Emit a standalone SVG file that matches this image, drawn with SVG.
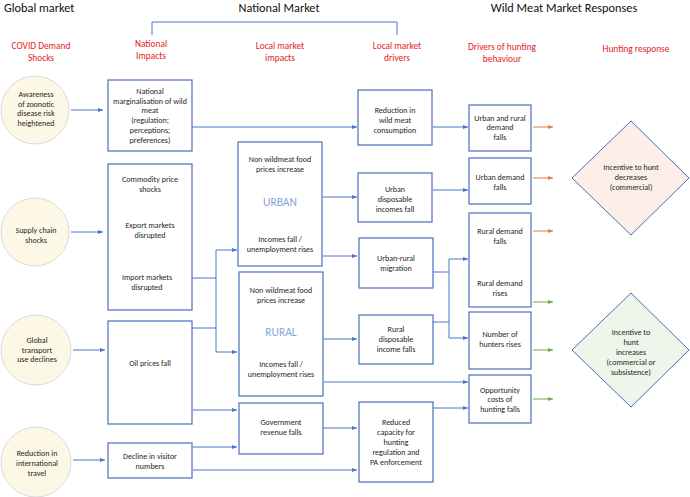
<svg xmlns="http://www.w3.org/2000/svg" width="690" height="497" viewBox="0 0 690 497">
<defs>
<style>
.t{font-family:Carlito,Lato,"Liberation Sans",sans-serif;font-size:8px;fill:#1e1e1e;text-anchor:middle}
.h{font-family:Carlito,Lato,"Liberation Sans",sans-serif;font-size:12.3px;fill:#111}
.r{font-family:Carlito,Lato,"Liberation Sans",sans-serif;font-size:9.4px;fill:#e42222;text-anchor:middle}
.big{font-family:Carlito,Lato,"Liberation Sans",sans-serif;font-size:11.5px;fill:#85a3dc;text-anchor:middle}
.box{fill:#fff;stroke:#4a6fbf;stroke-width:1.2}
.circ{fill:#fdf7e6;stroke:#cfd0dc;stroke-width:0.8}
.c{fill:none;stroke:#4a74c8;stroke-width:1}
.co{fill:none;stroke:#e07a3c;stroke-width:1}
.cg{fill:none;stroke:#6aa84f;stroke-width:1}
</style>
<marker id="ab" markerWidth="6" markerHeight="6" refX="5" refY="3" orient="auto" markerUnits="userSpaceOnUse"><path d="M0,1 L5,3 L0,5 Z" fill="#4a74c8"/></marker>
<marker id="ao" markerWidth="6" markerHeight="6" refX="5" refY="3" orient="auto" markerUnits="userSpaceOnUse"><path d="M0,1 L5,3 L0,5 Z" fill="#e07a3c"/></marker>
<marker id="ag" markerWidth="6" markerHeight="6" refX="5" refY="3" orient="auto" markerUnits="userSpaceOnUse"><path d="M0,1 L5,3 L0,5 Z" fill="#6aa84f"/></marker>
</defs>
<rect width="690" height="497" fill="#fff"/>

<g id="headers">
<text class="h" x="4" y="12">Global market</text>
<text class="h" x="279" y="12" text-anchor="middle">National Market</text>
<text class="h" x="564" y="12" text-anchor="middle">Wild Meat Market Responses</text>
<path d="M152,35 V22 H397 V35" fill="none" stroke="#4a74c8" stroke-width="1"/>
<text class="r" x="41" y="49">COVID Demand</text>
<text class="r" x="41" y="61">Shocks</text>
<text class="r" x="151" y="47">National</text>
<text class="r" x="151" y="59">Impacts</text>
<text class="r" x="280" y="49">Local market</text>
<text class="r" x="280" y="61">impacts</text>
<text class="r" x="397" y="49">Local market</text>
<text class="r" x="397" y="61">drivers</text>
<text class="r" x="502" y="50">Drivers of hunting</text>
<text class="r" x="502" y="62">behaviour</text>
<text class="r" x="636" y="52">Hunting response</text>
</g>

<g id="connectors">
<path class="c" d="M71,110 H103" marker-end="url(#ab)"/>
<path class="c" d="M71,232 H103" marker-end="url(#ab)"/>
<path class="c" d="M73,350 H105" marker-end="url(#ab)"/>
<path class="c" d="M73,460 H105" marker-end="url(#ab)"/>
<path class="c" d="M192,127 H357" marker-end="url(#ab)"/>
<path class="c" d="M433,127 H468" marker-end="url(#ab)"/>
<path class="c" d="M192,278 H216 M192,328 H216"/>
<path class="c" d="M216,250 V352"/>
<path class="c" d="M216,250 H237" marker-end="url(#ab)"/>
<path class="c" d="M216,352 H237" marker-end="url(#ab)"/>
<path class="c" d="M193,410 H237" marker-end="url(#ab)"/>
<path class="c" d="M193,447 H237" marker-end="url(#ab)"/>
<path class="c" d="M193,470 H357" marker-end="url(#ab)"/>
<path class="c" d="M323,197 H357" marker-end="url(#ab)"/>
<path class="c" d="M323,256 H357" marker-end="url(#ab)"/>
<path class="c" d="M323,339 H357" marker-end="url(#ab)"/>
<path class="c" d="M323,428 H357" marker-end="url(#ab)"/>
<path class="c" d="M324,382 H468" marker-end="url(#ab)"/>
<path class="c" d="M433,190 H468" marker-end="url(#ab)"/>
<path class="c" d="M433,272 H449 M433,322 H449 M449,259 V338"/>
<path class="c" d="M449,259 H468" marker-end="url(#ab)"/>
<path class="c" d="M449,338 H468" marker-end="url(#ab)"/>
<path class="c" d="M433,408 H468" marker-end="url(#ab)"/>
<path class="co" d="M533,127 H553" marker-end="url(#ao)"/>
<path class="co" d="M533,178 H553" marker-end="url(#ao)"/>
<path class="co" d="M533,231 H553" marker-end="url(#ao)"/>
<path class="cg" d="M533,302 H553" marker-end="url(#ag)"/>
<path class="cg" d="M533,350 H553" marker-end="url(#ag)"/>
<path class="cg" d="M533,399 H553" marker-end="url(#ag)"/>
</g>

<g id="awareness">
<circle class="circ" cx="35" cy="110" r="34"/>
<text class="t" x="36" y="97">Awareness</text>
<text class="t" x="36" y="107">of zoonotic</text>
<text class="t" x="36" y="116">disease risk</text>
<text class="t" x="36" y="126">heightened</text>
</g>
<g id="supply">
<circle class="circ" cx="35" cy="232" r="34"/>
<text class="t" x="36" y="233">Supply chain</text>
<text class="t" x="36" y="243">shocks</text>
</g>
<g id="transport">
<circle class="circ" cx="36" cy="350" r="35"/>
<text class="t" x="37" y="343">Global</text>
<text class="t" x="37" y="353">transport</text>
<text class="t" x="37" y="362">use declines</text>
</g>
<g id="travel">
<circle class="circ" cx="36" cy="462" r="35"/>
<text class="t" x="37" y="456">Reduction in</text>
<text class="t" x="37" y="466">international</text>
<text class="t" x="37" y="476">travel</text>
</g>

<g id="marginalisation">
<rect class="box" x="108" y="80" width="84" height="71"/>
<text class="t" x="150" y="94">National</text>
<text class="t" x="150" y="104">marginalisation of wild</text>
<text class="t" x="150" y="113">meat</text>
<text class="t" x="150" y="123">(regulation;</text>
<text class="t" x="150" y="133">perceptions;</text>
<text class="t" x="150" y="143">preferences)</text>
</g>
<g id="commodity">
<rect class="box" x="108" y="164" width="84" height="146"/>
<text class="t" x="150" y="182">Commodity price</text>
<text class="t" x="150" y="192">shocks</text>
<text class="t" x="150" y="228">Export markets</text>
<text class="t" x="150" y="238">disrupted</text>
<text class="t" x="147" y="280">Import markets</text>
<text class="t" x="147" y="290">disrupted</text>
</g>
<g id="oil">
<rect class="box" x="108" y="321" width="84" height="103"/>
<text class="t" x="150" y="366">Oil prices fall</text>
</g>
<g id="visitors">
<rect class="box" x="108" y="443" width="84" height="35"/>
<text class="t" x="150" y="459">Decline in visitor</text>
<text class="t" x="150" y="469">numbers</text>
</g>

<g id="urban">
<rect class="box" x="238" y="142" width="84" height="124"/>
<text class="t" x="280" y="162">Non wildmeat food</text>
<text class="t" x="280" y="172">prices increase</text>
<text class="big" x="280" y="206">URBAN</text>
<text class="t" x="280" y="242">Incomes fall /</text>
<text class="t" x="280" y="252">unemployment rises</text>
</g>
<g id="rural">
<rect class="box" x="239" y="272" width="84" height="124"/>
<text class="t" x="281" y="293">Non wildmeat food</text>
<text class="t" x="281" y="303">prices increase</text>
<text class="big" x="281" y="336">RURAL</text>
<text class="t" x="281" y="367">Incomes fall /</text>
<text class="t" x="281" y="377">unemployment rises</text>
</g>
<g id="government">
<rect class="box" x="239" y="403" width="84" height="51"/>
<text class="t" x="281" y="425">Government</text>
<text class="t" x="281" y="435">revenue falls</text>
</g>

<g id="reduction">
<rect class="box" x="358" y="90" width="74" height="55"/>
<text class="t" x="395" y="113">Reduction in</text>
<text class="t" x="395" y="123">wild meat</text>
<text class="t" x="395" y="133">consumption</text>
</g>
<g id="urban-income">
<rect class="box" x="358" y="173" width="74" height="49"/>
<text class="t" x="395" y="192">Urban</text>
<text class="t" x="395" y="202">disposable</text>
<text class="t" x="395" y="212">incomes fall</text>
</g>
<g id="migration">
<rect class="box" x="359" y="238" width="74" height="50"/>
<text class="t" x="396" y="261">Urban-rural</text>
<text class="t" x="396" y="271">migration</text>
</g>
<g id="rural-income">
<rect class="box" x="359" y="315" width="74" height="49"/>
<text class="t" x="396" y="332">Rural</text>
<text class="t" x="396" y="342">disposable</text>
<text class="t" x="396" y="352">income falls</text>
</g>
<g id="capacity">
<rect class="box" x="359" y="402" width="74" height="80"/>
<text class="t" x="396" y="425">Reduced</text>
<text class="t" x="396" y="435">capacity for</text>
<text class="t" x="396" y="445">hunting</text>
<text class="t" x="396" y="455">regulation and</text>
<text class="t" x="396" y="465">PA enforcement</text>
</g>

<g id="demand-falls">
<rect class="box" x="469" y="105" width="62" height="46"/>
<text class="t" x="500" y="121">Urban and rural</text>
<text class="t" x="500" y="130">demand</text>
<text class="t" x="500" y="140">falls</text>
</g>
<g id="urban-demand">
<rect class="box" x="469" y="158" width="62" height="46"/>
<text class="t" x="500" y="180">Urban demand</text>
<text class="t" x="500" y="190">falls</text>
</g>
<g id="rural-demand">
<rect class="box" x="469" y="213" width="62" height="94"/>
<text class="t" x="500" y="234">Rural demand</text>
<text class="t" x="500" y="244">falls</text>
<text class="t" x="500" y="286">Rural demand</text>
<text class="t" x="500" y="296">rises</text>
</g>
<g id="hunters">
<rect class="box" x="469" y="312" width="62" height="57"/>
<text class="t" x="500" y="337">Number of</text>
<text class="t" x="500" y="347">hunters rises</text>
</g>
<g id="opportunity">
<rect class="box" x="469" y="375" width="62" height="48"/>
<text class="t" x="500" y="393">Opportunity</text>
<text class="t" x="500" y="402">costs of</text>
<text class="t" x="500" y="412">hunting falls</text>
</g>

<g id="decrease">
<path d="M631,121 L689,178 L631,235 L572,178 Z" fill="#fcefe9" stroke="#4a6fbf" stroke-width="1"/>
<text class="t" x="631" y="170">Incentive to hunt</text>
<text class="t" x="631" y="180">decreases</text>
<text class="t" x="631" y="190">(commercial)</text>
</g>
<g id="increase">
<path d="M631,293 L689,350 L631,407 L572,350 Z" fill="#eef5ea" stroke="#4a6fbf" stroke-width="1"/>
<text class="t" x="631" y="335">Incentive to</text>
<text class="t" x="631" y="345">hunt</text>
<text class="t" x="631" y="355">increases</text>
<text class="t" x="631" y="365">(commercial or</text>
<text class="t" x="631" y="375">subsistence)</text>
</g>
</svg>
